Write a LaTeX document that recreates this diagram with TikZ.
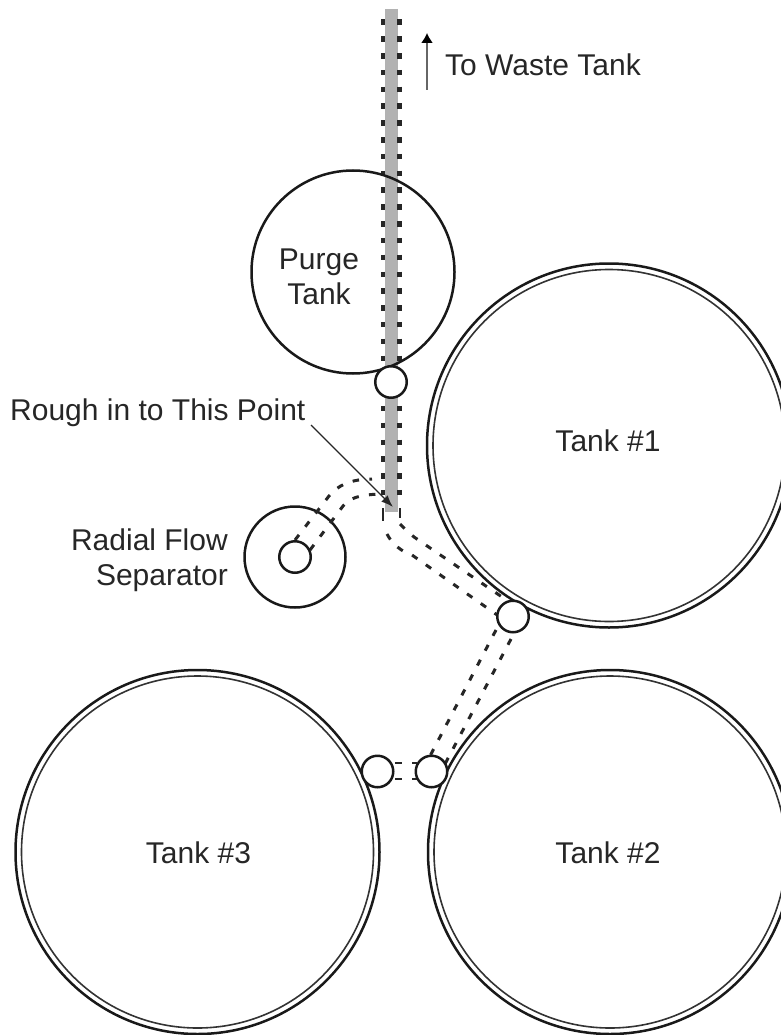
\documentclass[tikz,border=0pt]{standalone}
\usepackage{fontspec}
\setmainfont{Liberation Sans}
\usetikzlibrary{arrows.meta}
\tikzset{
  ring/.style={circle,draw=black!90,line width=2.5pt,inner sep=0pt,fill=none},
  tankouter/.style={circle,draw=black!90,line width=2.5pt,inner sep=0pt,minimum size=364pt},
  tankinner/.style={circle,draw=black!80,line width=1.6pt,inner sep=0pt,minimum size=352pt},
  port/.style={circle,draw=black!90,line width=2.5pt,fill=white,inner sep=0pt,minimum size=31.5pt},
  pipe/.style={draw=black!85,line width=3pt,dash pattern=on 6.5pt off 10.3pt},
  stub/.style={draw=black!85,line width=2.2pt},
  dots/.style={draw=black!85,line width=4.2pt,dash pattern=on 5.5pt off 11.3pt},
  lbl/.style={font=\fontsize{30}{35}\selectfont,text=black!85,align=center,inner sep=0pt},
}
\begin{document}
\begin{tikzpicture}[x=1pt,y=-1pt]
\useasboundingbox (0,0) rectangle (780,1035);
% riser
\coordinate (barTop) at (391.5,9);
\coordinate (barBot) at (391.5,512);
\draw[line width=13.5pt,draw=black!30] (barTop) -- (barBot);
\coordinate (dLa) at (383,19.5); \coordinate (dLb) at (383,498);
\coordinate (dRa) at (399.5,19.5); \coordinate (dRb) at (399.5,498);
\draw[dots] (dLa) -- (dLb);
\draw[dots] (dRa) -- (dRb);
% tanks
\node[ring,minimum size=203pt] (purge) at (353,272) {};
\node[tankouter] (t1) at (609,445.5) {};
\node[tankinner] at (609,445.5) {};
\node[tankouter] (t2) at (610,852) {};
\node[tankinner] at (610,852) {};
\node[tankouter] (t3) at (197.5,852) {};
\node[tankinner] at (197.5,852) {};
\node[ring,minimum size=101pt] (rfs) at (295,557) {};
% pipes
\draw[stub] (383,508) -- (383,521);
\draw[stub] (400,508) -- (400,518);
\draw[pipe] (387,534) .. controls (392,544) and (402,552) .. (412,555) -- (500,617);
\draw[pipe] (400,524) .. controls (403,527) and (408,532) .. (414,537) -- (505,599);
\draw[pipe] (295,540) -- (329,496) .. controls (337,486) and (350,479) .. (372,479);
\draw[pipe] (310,550) -- (343,506) .. controls (350,498) and (358,495) .. (380,494);
\draw[pipe] (496,630) -- (430,756);
\draw[pipe] (511,639) -- (445,764);
\draw[stub] (395,763) -- (402,763);
\draw[stub] (395,779) -- (402,779);
\draw[stub] (412,763) -- (417,763);
\draw[stub] (412,779) -- (417,779);
% ports
\node[port] (p0) at (391,382) {};
\node[port] (p1) at (513,616.5) {};
\node[port] (p2) at (377.5,771.5) {};
\node[port] (p3) at (431.5,771.5) {};
\node[port] (p4) at (295,557) {};
% labels
\node[lbl] (lpurge) at (319,277) {Purge\\Tank};
\node[lbl] (l1) at (608,441) {Tank \#1};
\node[lbl] (l2) at (608,853) {Tank \#2};
\node[lbl] (l3) at (198.5,853) {Tank \#3};
\node[lbl,align=right,anchor=east] (lrfs) at (228,560) {Radial Flow\\Separator};
\node[lbl,anchor=west] (lwaste) at (445,65) {To Waste Tank};
\node[lbl,anchor=west] (lrough) at (10,413) {Rough in to This Point};
% arrows
\coordinate (wa) at (427,90); \coordinate (wb) at (427,33);
\draw[black!60,line width=1.6pt,-{Latex[length=10pt,width=12pt,black]}] (wa) -- (wb);
\coordinate (ra) at (311,425); \coordinate (rb) at (393,507);
\draw[black!85,line width=1.3pt,-{Latex[length=12pt,width=9pt]}] (ra) -- (rb);
\end{tikzpicture}
\end{document}
